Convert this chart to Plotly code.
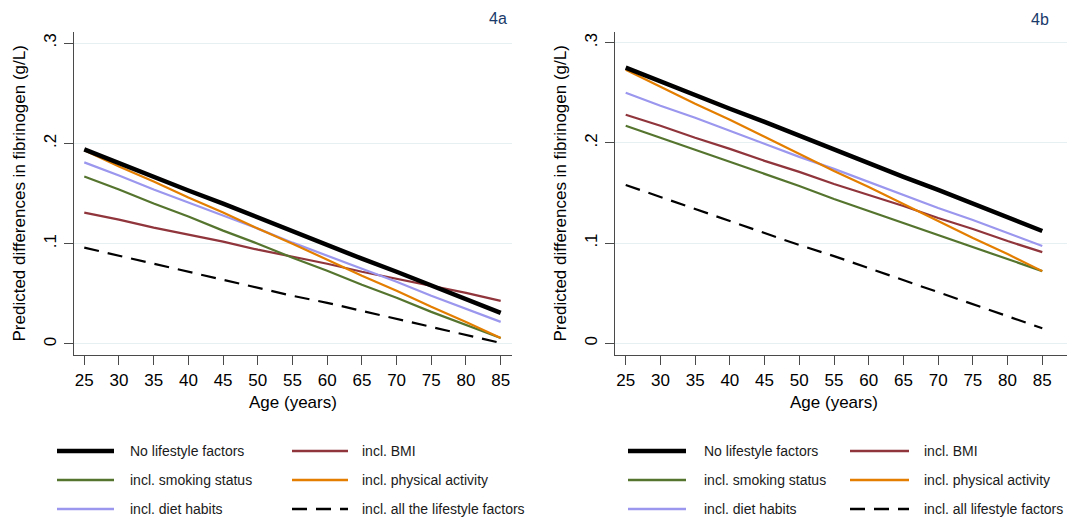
import plotly.graph_objects as go

# Age grid (years)
ages = [25, 30, 35, 40, 45, 50, 55, 60, 65, 70, 75, 80, 85]

# Panel 4a: predicted differences in fibrinogen (g/L)
a_none     = [.194, .180, .167, .153, .140, .126, .112, .099, .085, .072, .058, .044, .031]
a_bmi      = [.131, .124, .116, .109, .102, .094, .087, .080, .072, .065, .058, .051, .043]
a_smoking  = [.167, .154, .140, .127, .113, .100, .086, .073, .059, .046, .032, .019, .006]
a_physical = [.193, .177, .162, .146, .131, .115, .100, .084, .068, .053, .037, .022, .006]
a_diet     = [.181, .168, .154, .141, .128, .115, .101, .088, .075, .062, .048, .035, .022]
a_all      = [.096, .088, .080, .072, .064, .056, .048, .041, .033, .025, .017, .009, .001]

# Panel 4b
b_none     = [.275, .261, .248, .234, .221, .207, .193, .180, .166, .153, .139, .126, .112]
b_bmi      = [.228, .217, .205, .194, .182, .171, .159, .148, .137, .125, .114, .102, .091]
b_smoking  = [.217, .205, .193, .181, .169, .157, .144, .132, .120, .108, .096, .084, .072]
b_physical = [.273, .256, .239, .223, .206, .189, .172, .156, .139, .122, .105, .089, .072]
b_diet     = [.250, .237, .225, .212, .199, .186, .174, .161, .148, .135, .123, .110, .097]
b_all      = [.158, .146, .134, .122, .110, .098, .087, .075, .063, .051, .039, .027, .015]

labels_a = ["No lifestyle factors", "incl. BMI", "incl. smoking status",
            "incl. physical activity", "incl. diet habits", "incl. all the lifestyle factors"]
labels_b = ["No lifestyle factors", "incl. BMI", "incl. smoking status",
            "incl. physical activity", "incl. diet habits", "incl. all lifestyle factors"]

y_ticks = [0, 0.1, 0.2, 0.3]
y_ticktext = ["0", ".1", ".2", ".3"]

colors = ["#000000", "#90353B", "#55752F", "#E37E00", "#9B97EE", "#000000"]
widths = [4.5, 2.2, 2.2, 2.2, 2.2, 2.2]
dashes = ["solid", "solid", "solid", "solid", "solid", "15px,9px"]

FONT = "Liberation Sans, Arial, sans-serif"
W, H = 1067, 517

fig = go.Figure()

panels = [
    ("x", "y", [a_none, a_bmi, a_smoking, a_physical, a_diet, a_all], labels_a),
    ("x2", "y2", [b_none, b_bmi, b_smoking, b_physical, b_diet, b_all], labels_b),
]
# draw thin lines first, the thick reference line last
order = [5, 1, 2, 4, 3, 0]
for xa, ya, series, labels in panels:
    for i in order:
        fig.add_trace(go.Scatter(
            x=ages, y=series[i], mode="lines", name=labels[i],
            line=dict(color=colors[i], width=widths[i], dash=dashes[i]),
            xaxis=xa, yaxis=ya, showlegend=False,
        ))

def px_x(p):
    return p / W

def px_y(p):
    return (H - p) / H

axis_common = dict(
    showline=True, linecolor="#4a4a4a", linewidth=1.3,
    ticks="outside", ticklen=9, tickwidth=1.3, tickcolor="#4a4a4a",
    tickfont=dict(family=FONT, size=17, color="#000000"),
    zeroline=False,
)
y_common = dict(tickvals=y_ticks, ticktext=y_ticktext, tickangle=-90,
                ticklabelstandoff=1, showgrid=True,
                gridcolor="#E6EFF1", gridwidth=1.3)

ydom = [px_y(355), px_y(32)]
fig.update_layout(
    width=W, height=H,
    margin=dict(l=0, r=0, t=0, b=0),
    paper_bgcolor="white", plot_bgcolor="white",
    font=dict(family=FONT),
    xaxis=dict(domain=[px_x(74), px_x(512)], range=[23.52, 86.63],
               tickvals=ages, showgrid=False, anchor="y", **axis_common),
    yaxis=dict(domain=ydom, range=[-0.011, 0.311], anchor="x",
               **y_common, **axis_common),
    xaxis2=dict(domain=[px_x(615.3), 1.0], range=[23.5, 88.56],
                tickvals=ages, showgrid=False, anchor="y2", **axis_common),
    yaxis2=dict(domain=ydom, range=[-0.0117, 0.3106], anchor="x2",
                **y_common, **axis_common),
)

annotations = []
shapes = []

def text_at(cx, cy, text, size, color, angle=0, xanchor="center"):
    annotations.append(dict(x=px_x(cx), y=px_y(cy), xref="paper", yref="paper",
                            text=text, showarrow=False, textangle=angle,
                            xanchor=xanchor, yanchor="middle",
                            font=dict(family=FONT, size=size, color=color)))

# axis titles and panel labels
text_at(292.5, 402, "Age (years)", 17, "#000000")
text_at(834, 402, "Age (years)", 17, "#000000")
text_at(19, 193.5, "Predicted differences in fibrinogen (g/L)", 17, "#000000", angle=-90)
text_at(560, 193.5, "Predicted differences in fibrinogen (g/L)", 17, "#000000", angle=-90)
text_at(498, 18, "4a", 16, "#1A3A6B")
text_at(1040, 20, "4b", 16, "#1A3A6B")

# legends: three rows by two columns under each panel
rows_y = [451, 480, 509]
legend_cols = [
    (labels_a, [(57, 114, 128), (292, 348, 360)]),
    (labels_b, [(628, 686, 702), (850, 909, 922)]),
]
for labels, cols in legend_cols:
    for i, label in enumerate(labels):
        r, c = divmod(i, 2)
        x0, x1, tx = cols[c]
        yy = px_y(rows_y[r])
        shapes.append(dict(type="line", xref="paper", yref="paper",
                           x0=px_x(x0), x1=px_x(x1), y0=yy, y1=yy,
                           line=dict(color=colors[i], width=widths[i] if i == 0 else 2.4,
                                     dash=dashes[i])))
        text_at(tx, rows_y[r], label, 14, "#1a1a1a", xanchor="left")

fig.update_layout(annotations=annotations, shapes=shapes)
fig.write_html("out.html")
